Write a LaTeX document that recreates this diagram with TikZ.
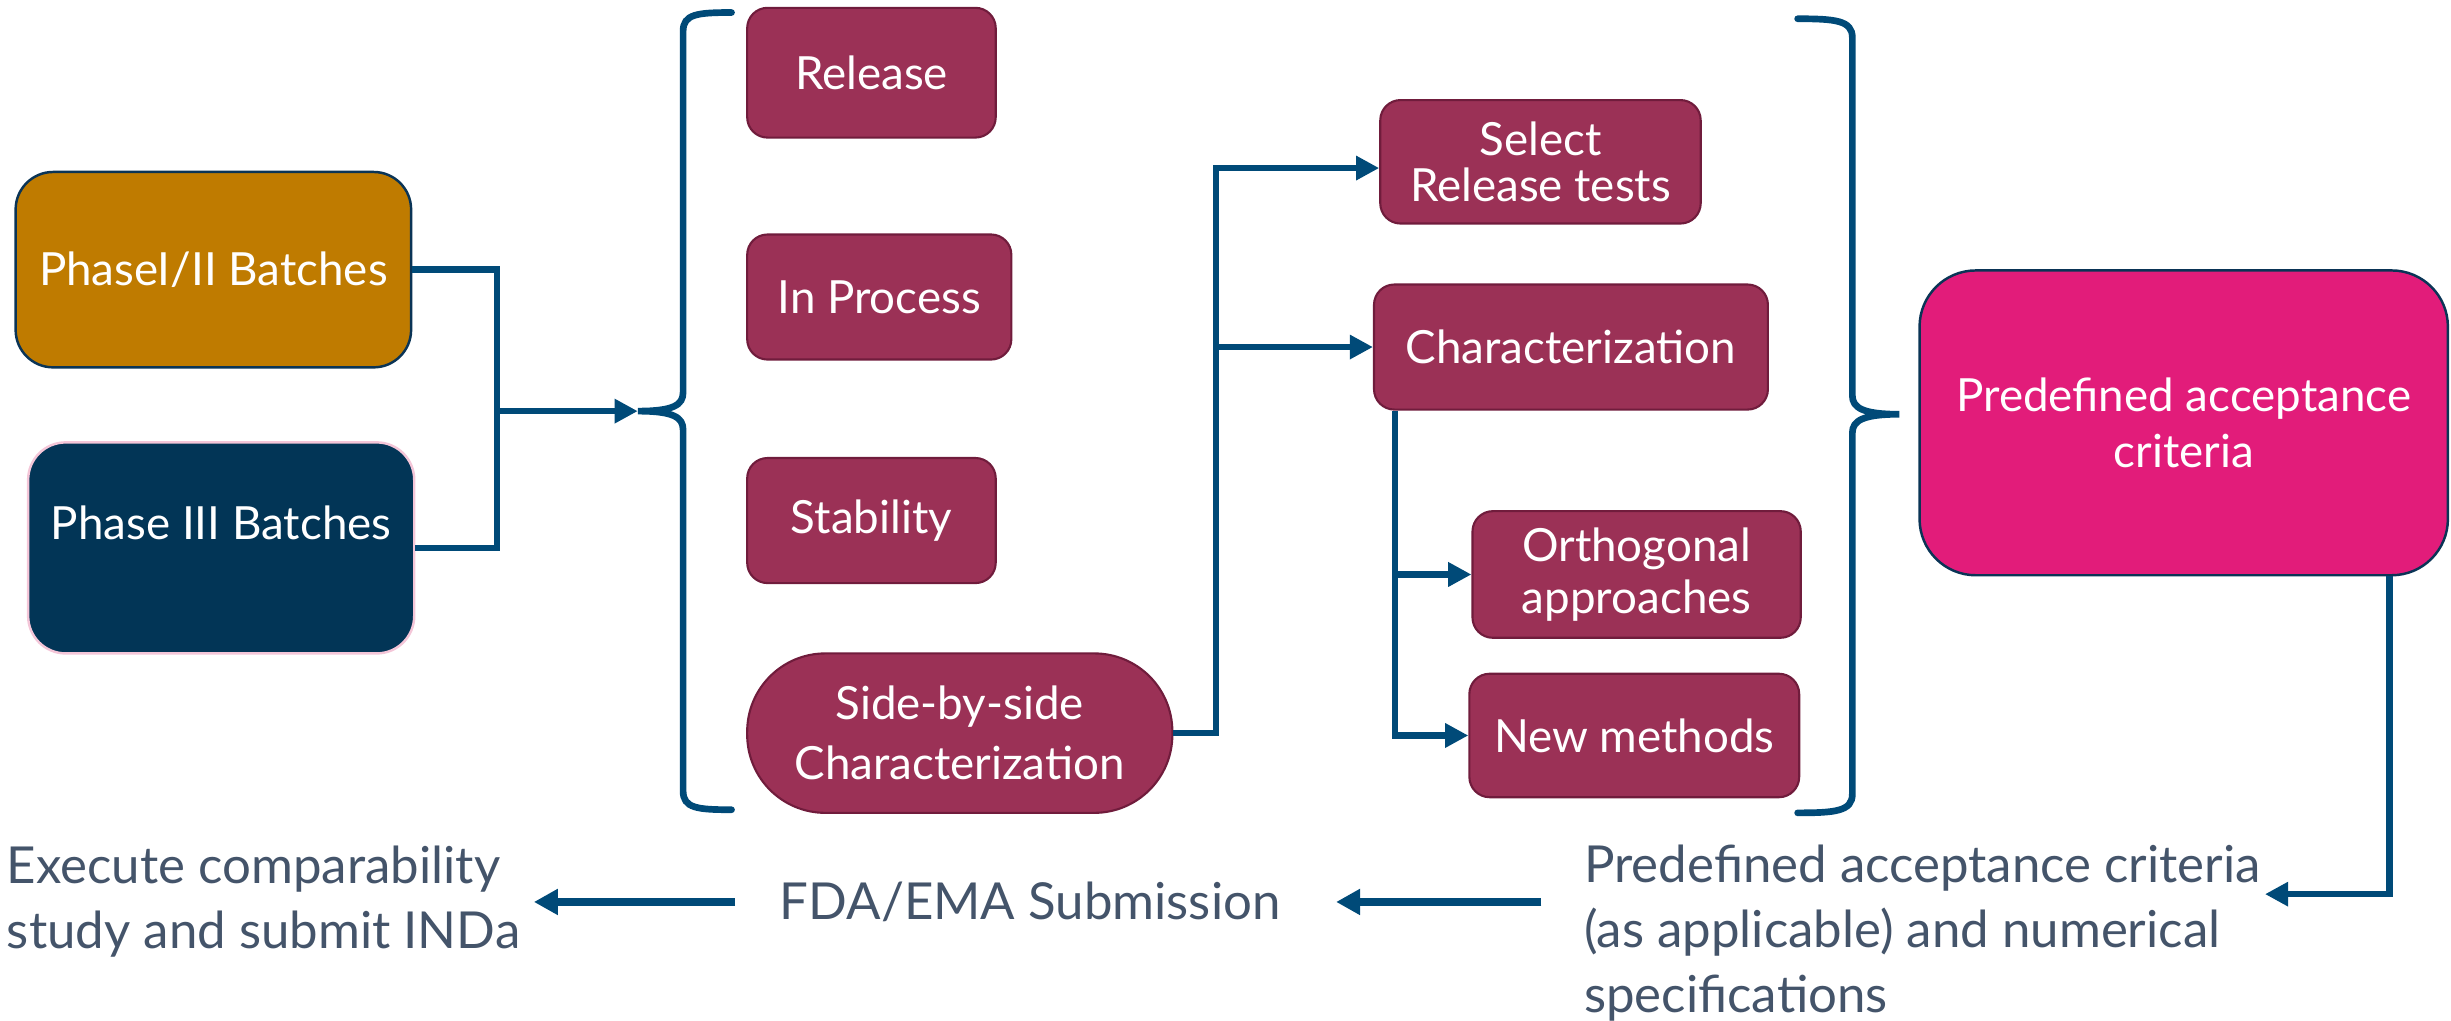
\documentclass[tikz,border=0pt]{standalone}
\usepackage{fontspec}
\setmainfont{Lato}
\usetikzlibrary{arrows.meta,calc}

\definecolor{navyline}{RGB}{0,74,120}
\definecolor{navyedge}{RGB}{10,52,86}
\definecolor{maroonfill}{RGB}{155,49,86}
\definecolor{maroonedge}{RGB}{112,28,60}
\definecolor{goldfill}{RGB}{191,123,0}
\definecolor{navyfill}{RGB}{2,53,86}
\definecolor{pinkedge}{RGB}{244,198,216}
\definecolor{accpink}{RGB}{226,28,122}
\definecolor{slatetext}{RGB}{68,84,106}

\newlength\pxu
\setlength\pxu{0.015631cm}
\newcommand\bxfont{\fontsize{13}{15}\selectfont}
\newcommand\lowfont{\fontsize{14.5}{18.5}\selectfont}

\tikzset{
  conn/.style={draw=navyline, line width=1.9pt},
  arr/.style={conn, -{Triangle[length=6.6pt,width=6.6pt]}},
  bigarr/.style={draw=navyline, line width=2.3pt, -{Triangle[length=6.8pt,width=7pt]}},
  brace/.style={draw=navyline, line width=1.9pt, line cap=round},
  basebox/.style={rectangle, text=white, align=center, font=\bxfont, inner sep=0pt},
  mbox/.style={basebox, rounded corners=13*\pxu, draw=maroonedge, line width=0.6pt, fill=maroonfill},
  lowtext/.style={text=slatetext, font=\lowfont, inner sep=0pt, align=left},
}

\begin{document}
\begin{tikzpicture}[x=\pxu, y=-\pxu]
\useasboundingbox (0,0) rectangle (1568,653);

% batch sources
\node[basebox, rounded corners=24*\pxu, draw=navyedge, line width=0.7pt, fill=goldfill,
      minimum width=253*\pxu, minimum height=125*\pxu] (p12) at (136.5,172.5) {PhaseI/II Batches};
\node[basebox, rounded corners=24*\pxu, draw=pinkedge, line width=0.7pt, fill=navyfill,
      minimum width=247*\pxu, minimum height=135*\pxu] (p3) at (141.5,350.5) {\raisebox{32\pxu}{Phase III Batches}};

% test categories
\node[mbox, minimum width=159*\pxu, minimum height=83*\pxu] (rel) at (557.5,46.5) {Release};
\node[mbox, minimum width=169*\pxu, minimum height=80*\pxu] (inp) at (562.5,190) {In Process};
\node[mbox, minimum width=159*\pxu, minimum height=80*\pxu] (stab) at (557.5,333) {Stability};
\node[mbox, rounded corners=50*\pxu, minimum width=272*\pxu, minimum height=102*\pxu] (sbs) at (614,469)
      {Side-by-side\\[2pt]Characterization};

% side-by-side branches
\node[mbox, minimum width=205*\pxu, minimum height=79*\pxu] (sel) at (985.5,103.5) {Select\\[-2pt]Release tests};
\node[mbox, minimum width=252*\pxu, minimum height=80*\pxu] (char) at (1005,222) {Characterization};
\node[mbox, minimum width=210*\pxu, minimum height=81*\pxu] (orth) at (1047,367.5) {Orthogonal\\approaches};
\node[mbox, minimum width=211*\pxu, minimum height=79*\pxu] (newm) at (1045.5,470.5) {New methods};

% acceptance criteria
\node[basebox, rounded corners=36*\pxu, draw=navyedge, line width=0.7pt, fill=accpink,
      minimum width=338*\pxu, minimum height=195*\pxu] (acc) at (1397,270.5)
      {Predefined acceptance\\[1pt]criteria};

% bottom row of steps
\node[lowtext, anchor=west] (crit) at (1013,597)
      {Predefined acceptance criteria\\(as applicable) and numerical\\specifications};
\node[lowtext] (fda) at (659,577) {FDA/EMA Submission};
\node[lowtext, anchor=west] (exec) at (4,577) {Execute comparability\\study and submit INDa};

% junction points and brace tips
\coordinate (jL) at (318,263);
\coordinate (lbt) at (408,263);
\coordinate (jM) at (778,222);
\coordinate (jC) at ($(char.south west)+(14,0)$);
\coordinate (rbt) at (1215,265);
\coordinate (critend) at (1449,572);

% left brace
\draw[brace] (468,8) .. controls (446,8) and (437,9) .. (437,20) -- (437,251)
  .. controls (437,259) and (431,263) .. (lbt)
  .. controls (431,263) and (437,267) .. (437,275) -- (437,506)
  .. controls (437,517) and (446,518) .. (468,518);

% right brace
\draw[brace] (1150,12) .. controls (1174,12) and (1185,13) .. (1185,24) -- (1185,253)
  .. controls (1185,261) and (1192,265) .. (rbt)
  .. controls (1192,265) and (1185,269) .. (1185,277) -- (1185,508)
  .. controls (1185,519) and (1174,520) .. (1150,520);

% batches into the brace
\draw[conn] (p12.east) -| (jL);
\draw[conn] (p3.east) -| (jL);
\draw[arr] (jL) -- (lbt);

% side-by-side fan-out
\draw[arr] (sbs.east) -| (jM) |- ([yshift=-4*\pxu]sel.west);
\draw[arr] (jM) -- (char.west);

% characterization fan-out
\draw[arr] (jC) |- (newm.west);
\draw[arr] (orth.west -| jC) -- (orth.west);

% acceptance criteria down to the bottom row
\draw[arr] ($(acc.south east)+(-38,0)$) |- (critend);

% bottom row arrows
\draw[bigarr, shorten <=0.42cm, shorten >=0.55cm] (crit.west |- fda.east) -- (fda.east);
\draw[bigarr, shorten <=0.44cm, shorten >=0.13cm] (fda.west) -- (exec.east |- fda.west);

\end{tikzpicture}
\end{document}
